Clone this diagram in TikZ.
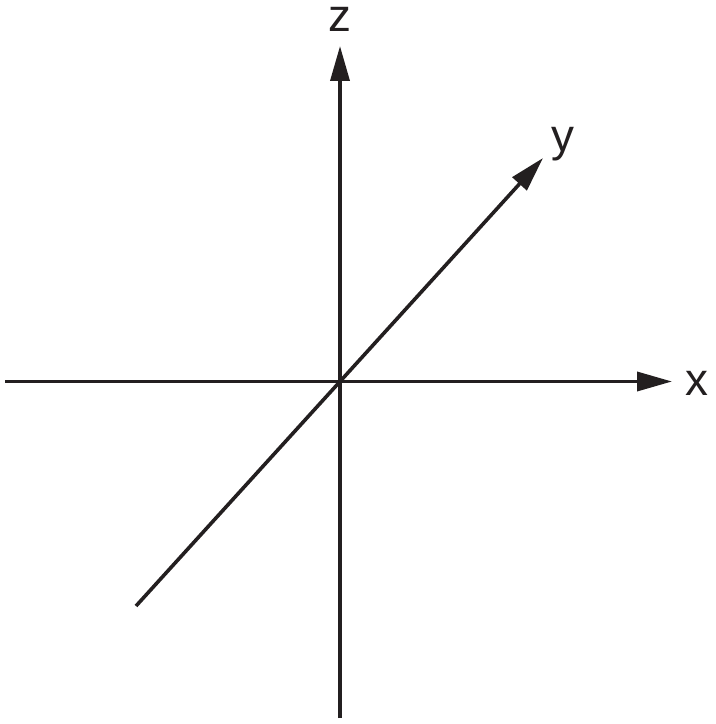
\documentclass[tikz,border=0pt]{standalone}
\usepackage{fontspec}
\setmainfont{Liberation Sans}
\usetikzlibrary{arrows.meta}
\definecolor{axisgray}{HTML}{231F20}

\begin{document}
\begin{tikzpicture}[x=1bp,y=-1bp,line width=3.6bp,draw=axisgray,
    axis/.style={-{Triangle[length=35bp,width=19bp]}},
    lbl/.style={inner sep=0pt,anchor=base,text=axisgray,font=\fontsize{46}{50}\selectfont}]
    \useasboundingbox (0,0) rectangle (716,724);
    \coordinate (o) at (340, 381.5);
    \coordinate (xl) at (5, 381.5);
    \coordinate (xr) at (672, 381.5);
    \coordinate (zb) at (340, 718);
    \coordinate (zt) at (340, 46);
    \coordinate (yb) at (136, 606);
    \coordinate (yt) at (543, 158);
    \draw[axis] (xl) -- (xr);
    \draw[axis] (zb) -- (zt);
    \draw[axis] (yb) -- (o) -- (yt);
    \node[lbl] (xlab) at (697, 395) {x};
    \node[lbl] (ylab) at (562.5, 151) {y};
    \node[lbl] (zlab) at (340, 32) {z};
\end{tikzpicture}
\end{document}
